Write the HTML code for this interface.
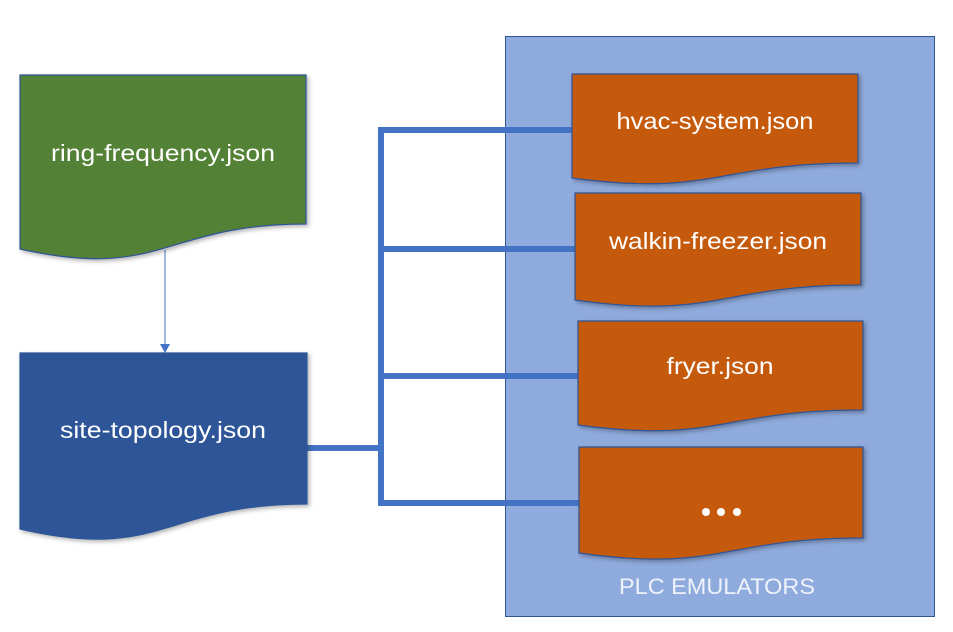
<!DOCTYPE html>
<html><head><meta charset="utf-8"><style>
html,body{margin:0;padding:0;background:#fff;}
svg{display:block;}
text{font-family:"Liberation Sans",sans-serif;fill:#fff;}
</style></head><body>
<svg width="953" height="632" viewBox="0 0 953 632" xmlns="http://www.w3.org/2000/svg">
<defs>
<filter id="sh" x="-10%" y="-10%" width="130%" height="130%">
<feDropShadow dx="2" dy="2" stdDeviation="2" flood-color="#000" flood-opacity="0.3"/>
</filter>
</defs>
<rect x="505.5" y="36.5" width="429" height="580" fill="#8FAADC" stroke="#2F5597" stroke-width="1"/>
<text x="717" y="594" font-size="22" text-anchor="middle" fill="#fff" style="fill:#EEF3FB" textLength="196" lengthAdjust="spacingAndGlyphs">PLC EMULATORS</text>

<!-- connectors -->
<g stroke="#4472C4" stroke-width="6" fill="none">
<path d="M307 448 H381"/>
<path d="M381 127 V506"/>
<path d="M378 130 H574"/>
<path d="M378 249 H577"/>
<path d="M378 376 H580"/>
<path d="M378 503 H581"/>
</g>
<!-- arrow -->
<line x1="165" y1="250" x2="165" y2="345" stroke="#4472C4" stroke-width="1"/>
<polygon points="160,344 170,344 165,353" fill="#4472C4"/>

<!-- docs -->
<g filter="url(#sh)" stroke="#2F5597" stroke-width="1.2">
<path fill="#538135" d="M20 75 H306 V224 C163 224 163 281 20 249 Z"/>
<path fill="#2F5597" d="M20 353 H307 V504 C163 504 163 562 20 529 Z"/>
<path fill="#C55A11" d="M572 74 H858 V163 C715 163 715 197 572 178 Z"/>
<path fill="#C55A11" d="M575 193 H861 V285 C718 285 718 320 575 300 Z"/>
<path fill="#C55A11" d="M578 321 H863 V410 C720 410 720 444 578 425 Z"/>
<path fill="#C55A11" d="M579 447 H863 V538 C721 538 721 573 579 553 Z"/>
</g>

<text x="163" y="161" font-size="23" text-anchor="middle" textLength="224" lengthAdjust="spacingAndGlyphs">ring-frequency.json</text>
<text x="163" y="438" font-size="23" text-anchor="middle" textLength="206" lengthAdjust="spacingAndGlyphs">site-topology.json</text>
<text x="715" y="129" font-size="23" text-anchor="middle" textLength="197" lengthAdjust="spacingAndGlyphs">hvac-system.json</text>
<text x="718" y="249" font-size="23" text-anchor="middle" textLength="218" lengthAdjust="spacingAndGlyphs">walkin-freezer.json</text>
<text x="720" y="374" font-size="23" text-anchor="middle" textLength="107" lengthAdjust="spacingAndGlyphs">fryer.json</text>
<g fill="#fff">
<circle cx="706" cy="512" r="4"/><circle cx="721" cy="512" r="4"/><circle cx="737" cy="512" r="4"/>
</g>
</svg>
</body></html>
